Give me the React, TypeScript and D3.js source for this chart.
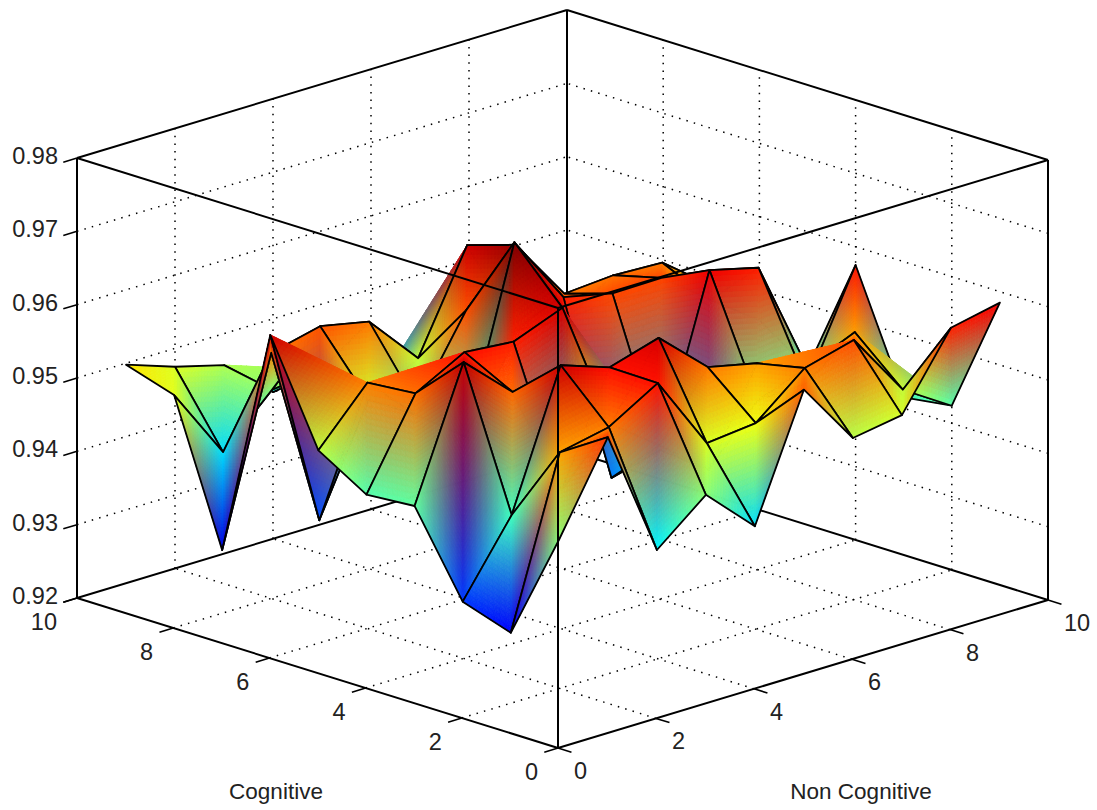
import React from 'react';
import * as d3 from 'd3';

const width = 1097;
const height = 810;

// axis ticks
const cognitiveTicks = [0, 2, 4, 6, 8, 10];
const nonCognitiveTicks = [0, 2, 4, 6, 8, 10];
const zTicks = [0.92, 0.93, 0.94, 0.95, 0.96, 0.97, 0.98];

// the mesh runs 1..10 on both floor axes
const cognitiveValues = [1, 2, 3, 4, 5, 6, 7, 8, 9, 10];
const nonCognitiveValues = [1, 2, 3, 4, 5, 6, 7, 8, 9, 10];

// one row per cognitive value
const row1 = [0.9443, 0.9563, 0.9389, 0.9444, 0.9381, 0.9547, 0.9461, 0.9472, 0.9571, 0.9585];
const row2 = [0.9296, 0.9522, 0.9536, 0.9576, 0.9474, 0.9481, 0.9536, 0.9554, 0.9466, 0.9424];
const row3 = [0.9318, 0.9416, 0.96, 0.9577, 0.9597, 0.9537, 0.9522, 0.9495, 0.9524, 0.9415];
const row4 = [0.9428, 0.9604, 0.9543, 0.9389, 0.9459, 0.941, 0.9356, 0.9431, 0.9434, 0.9575];
const row5 = [0.9423, 0.9541, 0.9577, 0.9571, 0.9597, 0.9345, 0.9363, 0.9588, 0.9571, 0.9414];
const row6 = [0.9463, 0.9535, 0.9471, 0.9421, 0.9666, 0.9571, 0.9556, 0.9557, 0.9507, 0.9459];
const row7 = [0.96, 0.9327, 0.9471, 0.9444, 0.9553, 0.9622, 0.9535, 0.954, 0.9537, 0.9486];
const row8 = [0.9286, 0.9535, 0.9551, 0.9537, 0.9467, 0.9601, 0.9465, 0.9459, 0.9466, 0.9459];
const row9 = [0.9477, 0.9379, 0.9444, 0.9451, 0.939, 0.9363, 0.939, 0.9438, 0.9438, 0.9425];
const row10 = [0.9498, 0.9475, 0.9457, 0.94, 0.9437, 0.9424, 0.937, 0.9404, 0.9397, 0.9391];
const rows = [row1, row2, row3, row4, row5, row6, row7, row8, row9, row10];

const origin = { x: 558, y: 748 };
const cogX = d3.scaleLinear().domain([0, 10]).range([0, -481]);
const cogY = d3.scaleLinear().domain([0, 10]).range([0, -150]);
const nonX = d3.scaleLinear().domain([0, 10]).range([0, 490]);
const nonY = d3.scaleLinear().domain([0, 10]).range([0, -148]);
const zY = d3.scaleLinear().domain([0.92, 0.98]).range([0, -440]);

const project = (c: number, n: number, z: number): [number, number] => [
  origin.x + cogX(c) + nonX(n),
  origin.y + cogY(c) + nonY(n) + zY(z),
];

// jet colormap
const jet = d3.scaleLinear<string>()
  .domain([0, 0.125, 0.375, 0.625, 0.875, 1])
  .range(['#00008f', '#0000ff', '#00ffff', '#ffff00', '#ff0000', '#800000'])
  .clamp(true);
const colorT = d3.scaleLinear().domain([0.925, 0.963]).range([0, 1]).clamp(true);

type Vertex = { p: [number, number]; rgb: [number, number, number] };

const vertex = (ci: number, ni: number): Vertex => {
  const z = rows[ci][ni];
  const col = d3.rgb(jet(colorT(z)));
  return {
    p: project(cognitiveValues[ci], nonCognitiveValues[ni], z),
    rgb: [col.r, col.g, col.b],
  };
};

const STEP = 6;

// no gouraud fill in svg, so cut the triangle into small flat ones
const drawTriangle = (g: any, a: Vertex, b: Vertex, c: Vertex) => {
  const longest = Math.max(
    Math.hypot(a.p[0] - b.p[0], a.p[1] - b.p[1]),
    Math.hypot(b.p[0] - c.p[0], b.p[1] - c.p[1]),
    Math.hypot(c.p[0] - a.p[0], c.p[1] - a.p[1]),
  );
  const N = Math.max(2, Math.ceil(longest / STEP));
  const at = (i: number, j: number) => {
    const u = i / N;
    const v = j / N;
    const w = 1 - u - v;
    return [a.p[0] * w + b.p[0] * u + c.p[0] * v, a.p[1] * w + b.p[1] * u + c.p[1] * v];
  };
  const colorAt = (u: number, v: number) => {
    const w = 1 - u - v;
    const r = Math.round(a.rgb[0] * w + b.rgb[0] * u + c.rgb[0] * v);
    const gr = Math.round(a.rgb[1] * w + b.rgb[1] * u + c.rgb[1] * v);
    const bl = Math.round(a.rgb[2] * w + b.rgb[2] * u + c.rgb[2] * v);
    return `rgb(${r},${gr},${bl})`;
  };
  const put = (p: number[][], col: string) => {
    g.append('path')
      .attr('d', 'M' + p.map((q) => q[0].toFixed(1) + ',' + q[1].toFixed(1)).join('L') + 'Z')
      .attr('fill', col)
      .attr('stroke', col)
      .attr('stroke-width', 0.8);
  };
  for (let i = 0; i < N; i++) {
    for (let j = 0; j < N - i; j++) {
      put([at(i, j), at(i + 1, j), at(i, j + 1)], colorAt((i + 1 / 3) / N, (j + 1 / 3) / N));
      if (i + j < N - 1) {
        put([at(i + 1, j), at(i + 1, j + 1), at(i, j + 1)], colorAt((i + 2 / 3) / N, (j + 2 / 3) / N));
      }
    }
  }
};

const App = () => {
  const svgRef = React.useRef<SVGSVGElement>(null);

  React.useEffect(() => {
    const svg = d3.select(svgRef.current);
    svg.selectAll('*').remove();

    const seg = (g: any, a: [number, number], b: [number, number], w: number, dash?: string) => {
      const l = g.append('line')
        .attr('x1', a[0]).attr('y1', a[1])
        .attr('x2', b[0]).attr('y2', b[1])
        .attr('stroke', '#000')
        .attr('stroke-width', w);
      if (dash) l.attr('stroke-dasharray', dash);
    };

    const zMin = zTicks[0];
    const zMax = zTicks[zTicks.length - 1];
    const back = svg.append('g');
    const dots = '1.5 6.2';

    // floor grid
    cognitiveTicks.slice(1, -1).forEach((c) => seg(back, project(c, 0, zMin), project(c, 10, zMin), 1.5, dots));
    nonCognitiveTicks.slice(1, -1).forEach((n) => seg(back, project(0, n, zMin), project(10, n, zMin), 1.5, dots));
    // back walls
    nonCognitiveTicks.slice(1, -1).forEach((n) => seg(back, project(10, n, zMin), project(10, n, zMax), 1.5, dots));
    cognitiveTicks.slice(1, -1).forEach((c) => seg(back, project(c, 10, zMin), project(c, 10, zMax), 1.5, dots));
    zTicks.slice(1, -1).forEach((z) => {
      seg(back, project(10, 0, z), project(10, 10, z), 1.5, dots);
      seg(back, project(0, 10, z), project(10, 10, z), 1.5, dots);
    });
    // box parts behind the surface
    seg(back, project(10, 0, zMin), project(10, 10, zMin), 2);
    seg(back, project(0, 10, zMin), project(10, 10, zMin), 2);
    seg(back, project(10, 10, zMin), project(10, 10, zMax), 2);
    seg(back, project(10, 0, zMax), project(10, 10, zMax), 2);
    seg(back, project(0, 10, zMax), project(10, 10, zMax), 2);
    seg(back, project(10, 0, zMin), project(10, 0, zMax), 2);
    seg(back, project(0, 10, zMax), project(0, 10, zMin), 2);

    // true when p lies inside triangle a b c on screen
    const inside = (p: number[], a: number[], b: number[], c: number[]) => {
      const side = (u: number[], v: number[]) => (v[0] - u[0]) * (p[1] - u[1]) - (v[1] - u[1]) * (p[0] - u[0]);
      const s1 = side(a, b);
      const s2 = side(b, c);
      const s3 = side(c, a);
      return (s1 > 0 && s2 > 0 && s3 > 0) || (s1 < 0 && s2 < 0 && s3 < 0);
    };

    // surface, back to front
    const surface = svg.append('g');
    const edge = d3.line();
    for (let ci = rows.length - 2; ci >= 0; ci--) {
      for (let ni = row1.length - 2; ni >= 0; ni--) {
        const v00 = vertex(ci, ni);
        const v10 = vertex(ci + 1, ni);
        const v01 = vertex(ci, ni + 1);
        const v11 = vertex(ci + 1, ni + 1);
        const across =
          (v11.p[1] > v00.p[1] && inside(v00.p, v10.p, v11.p, v01.p)) ||
          inside(v10.p, v00.p, v11.p, v01.p) ||
          inside(v01.p, v00.p, v10.p, v11.p);
        if (across) {
          drawTriangle(surface, v11, v10, v01);
          drawTriangle(surface, v00, v10, v01);
        } else {
          // diagonal runs straight up the screen
          drawTriangle(surface, v00, v10, v11);
          drawTriangle(surface, v00, v01, v11);
        }
        surface.append('path')
          .attr('d', edge([v00.p, v10.p, v11.p, v01.p]) + 'Z')
          .attr('fill', 'none')
          .attr('stroke', '#000')
          .attr('stroke-width', 1.8)
          .attr('stroke-linejoin', 'round');
      }
    }

    // box parts in front of the surface
    const front = svg.append('g');
    seg(front, project(0, 0, zMin), project(0, 0, zMax), 2);
    seg(front, project(10, 0, zMax), project(0, 0, zMax), 2);
    seg(front, project(0, 10, zMax), project(0, 0, zMax), 2);
    seg(front, project(0, 0, zMin), project(10, 0, zMin), 2);
    seg(front, project(0, 0, zMin), project(0, 10, zMin), 2);

    // ticks
    cognitiveTicks.forEach((c) => seg(front, project(c, 0, zMin), project(c, -0.28, zMin), 1.6));
    nonCognitiveTicks.forEach((n) => seg(front, project(0, n, zMin), project(-0.28, n, zMin), 1.6));
    zTicks.forEach((z) => seg(front, project(10, 0, z), project(10, -0.28, z), 1.6));

    // labels
    const text = svg.append('g')
      .attr('font-family', '"Liberation Sans", Arial, sans-serif')
      .attr('fill', '#222');
    zTicks.forEach((z) => {
      const p = project(10, 0, z);
      text.append('text')
        .attr('x', 58).attr('y', p[1] - 2)
        .attr('text-anchor', 'end')
        .attr('dominant-baseline', 'central')
        .attr('font-size', 23.5)
        .text(z.toFixed(2));
    });
    cognitiveTicks.forEach((c) => {
      const p = project(c, 0, zMin);
      text.append('text')
        .attr('x', p[0] - 20).attr('y', p[1] + 24)
        .attr('text-anchor', 'end')
        .attr('dominant-baseline', 'central')
        .attr('font-size', 23.5)
        .text(c);
    });
    nonCognitiveTicks.forEach((n) => {
      const p = project(0, n, zMin);
      text.append('text')
        .attr('x', p[0] + 16).attr('y', p[1] + 23)
        .attr('dominant-baseline', 'central')
        .attr('font-size', 23.5)
        .text(n);
    });
    text.append('text').attr('x', 276).attr('y', 791)
      .attr('text-anchor', 'middle').attr('dominant-baseline', 'central')
      .attr('font-size', 22.5).text('Cognitive');
    text.append('text').attr('x', 861).attr('y', 791)
      .attr('text-anchor', 'middle').attr('dominant-baseline', 'central')
      .attr('font-size', 22.5).text('Non Cognitive');
  }, []);

  return (
    <svg
      ref={svgRef}
      width={width}
      height={height}
      style={{ position: 'absolute', left: 0, top: 0, display: 'block', background: '#fff' }}
    />
  );
};

export default App;
